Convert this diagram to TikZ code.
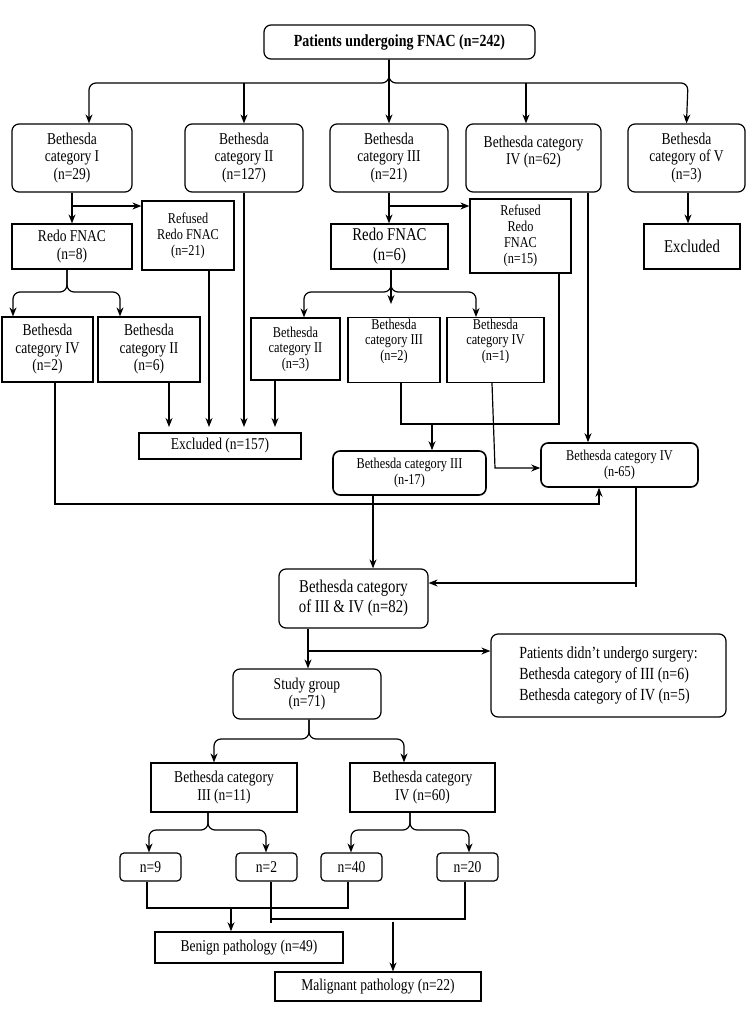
\documentclass[tikz,border=0pt]{standalone}
\usepackage{fontspec}
\setmainfont{Liberation Serif}[FakeStretch=0.82]
\usetikzlibrary{arrows.meta}
\begin{document}
\begin{tikzpicture}[x=1pt,y=-1pt,
 box/.style={draw,line width=1.2pt,align=center,inner sep=1pt,font=\fontsize{16.5}{17.5}\selectfont},
 rbox/.style={box,rounded corners=7pt},
 sbox/.style={box,font=\fontsize{15}{15.5}\selectfont},
 ln/.style={line width=1.2pt},
 arr/.style={ln,-{Stealth[length=9pt,width=7pt]}},
 br/.style={arr,rounded corners=7pt}]
\useasboundingbox (0,0) rectangle (750,1034);
% row 0
\node[rbox,minimum width=271,minimum height=34,font=\bfseries\fontsize{17}{18}\selectfont] (top) at (399.5,42) {Patients undergoing FNAC (n=242)};
% row 1
\node[rbox,minimum width=120,minimum height=68] (b1) at (72,158) {Bethesda\\category I\\(n=29)};
\node[rbox,minimum width=118,minimum height=68] (b2) at (244,158) {Bethesda\\category II\\(n=127)};
\node[rbox,minimum width=118,minimum height=68] (b3) at (389,158) {Bethesda\\category III\\(n=21)};
\node[rbox,minimum width=135,minimum height=68] (b4) at (533.5,158) {};
\node[align=center,font=\fontsize{16.5}{17.5}\selectfont,inner sep=0] (b4t) at (533.5,152) {Bethesda category\\IV (n=62)};
\node[rbox,minimum width=117,minimum height=68] (b5) at (686.5,158) {Bethesda\\category of V\\(n=3)};
% row 2
\node[box,minimum width=92,minimum height=69,font=\fontsize{15}{16}\selectfont] (ref1) at (188,235.5) {Refused\\Redo FNAC\\(n=21)};
\node[box,minimum width=120,minimum height=45] (redo1) at (72,246.5) {Redo FNAC\\(n=8)};
\node[box,minimum width=117,minimum height=45,font=\fontsize{18}{20}\selectfont] (redo2) at (389.5,246.5) {Redo FNAC\\(n=6)};
\node[box,minimum width=101,minimum height=74,font=\fontsize{15}{16}\selectfont] (ref2) at (520.5,236) {Refused\\Redo\\FNAC\\(n=15)};
\node[box,minimum width=96,minimum height=45,font=\fontsize{18}{20}\selectfont] (ex5) at (692,246.5) {Excluded};
% row 3
\node[box,minimum width=91,minimum height=65] (c1) at (47.5,349.5) {Bethesda\\category IV\\(n=2)};
\node[box,minimum width=102,minimum height=65] (c2) at (149,349.5) {Bethesda\\category II\\(n=6)};
\node[sbox,minimum width=89,minimum height=62] (c3) at (295.5,349) {Bethesda\\category II\\(n=3)};
\node[sbox,minimum width=92,minimum height=64,anchor=north] (c4) at (394,317) {Bethesda\\category III\\(n=2)\\[6pt]};
\node[sbox,minimum width=97,minimum height=64,anchor=north] (c5) at (495.5,317) {Bethesda\\category IV\\(n=1)\\[6pt]};
% row 4
\node[box,minimum width=162,minimum height=26] (ex157) at (220,446) {Excluded (n=157)};
\node[rbox,minimum width=153,minimum height=44,font=\fontsize{15}{16}\selectfont,line width=1.6pt] (d3) at (409.5,473) {Bethesda category III\\(n-17)};
\node[rbox,minimum width=157,minimum height=44,font=\fontsize{15}{16}\selectfont,line width=1.6pt] (d4) at (619.5,465) {Bethesda category IV\\(n-65)};
\node[rbox,minimum width=149,minimum height=59,font=\fontsize{18}{20}\selectfont] (e34) at (353.5,598.5) {Bethesda category\\of III \& IV (n=82)};
\node[rbox,minimum width=235,minimum height=83,align=left,font=\fontsize{17}{21}\selectfont] (nos) at (608.5,675.5) {Patients didn’t undergo surgery:\\Bethesda category of III (n=6)\\Bethesda category of IV (n=5)};
\node[rbox,minimum width=148,minimum height=50] (sg) at (307,694) {Study group\\(n=71)};
\node[box,minimum width=146,minimum height=49] (f3) at (224,787.5) {Bethesda category\\III (n=11)};
\node[box,minimum width=145,minimum height=49] (f4) at (422.5,787.5) {Bethesda category\\IV (n=60)};
\node[rbox,rounded corners=4pt,minimum width=61,minimum height=28] (n9) at (150.5,867) {n=9};
\node[rbox,rounded corners=4pt,minimum width=61,minimum height=28] (n2) at (266.5,867) {n=2};
\node[rbox,rounded corners=4pt,minimum width=61,minimum height=28] (n40) at (351.5,867) {n=40};
\node[rbox,rounded corners=4pt,minimum width=61,minimum height=28] (n20) at (467.5,867) {n=20};
\node[box,minimum width=188,minimum height=31,line width=1.6pt] (ben) at (249,947.5) {Benign pathology (n=49)};
\node[box,minimum width=206,minimum height=29] (mal) at (378,986.5) {Malignant pathology (n=22)};
% top brace
\draw[br] (top.south -| 389,0) -- (389,83) -- (89,83) -- (b1.north -| 89,0);
\draw[br] (top.south -| 389,0) -- (389,83) -- (688,83) -- (b5.north);
\draw[arr] (top.south -| 389,0) -- (b3.north);
\draw[arr] (244,83) -- (b2.north);
\draw[arr] (526,83) -- (b4.north -| 526,0);
% row1 -> row2
\draw[arr] (b1.south) -- (redo1.north);
\draw[arr] (72,206) -- (ref1.west |- 0,206);
\draw[arr] (b3.south) -- (redo2.north -| 389,0);
\draw[arr] (389,206) -- (ref2.west |- 0,206);
\draw[arr] (b5.south -| 688,0) -- (ex5.north -| 688,0);
% redo1 brace
\draw[br] (redo1.south -| 67,0) -- (67,292) -- (13,292) -- (c1.north -| 13,0);
\draw[br] (redo1.south -| 67,0) -- (67,292) -- (120,292) -- (c2.north -| 120,0);
% redo2 brace
\draw[br] (redo2.south -| 391,0) -- (391,292) -- (304,292) -- (c3.north -| 304,0);
\draw[br] (redo2.south -| 391,0) -- (391,292) -- (476,292) -- (c5.north -| 476,0);
\draw[arr] (redo2.south -| 391,0) -- (391,304);
% into excluded 157
\draw[arr] (c2.south -| 169,0) -- (169,427);
\draw[arr] (ref1.south -| 209,0) -- (209,427);
\draw[arr] (b2.south) -- (244,427);
\draw[arr] (c3.south -| 275,0) -- (275,427);
% to III-17
\draw[ln] (c4.south -| 401,0) -- (401,424) -- (559,424) -- (ref2.south -| 559,0);
\draw[arr] (432,424) -- (d3.north -| 432,0);
% to IV-65
\draw[arr] (c5.south -| 492,0) -- (495,468) -- (d4.west |- 0,468);
\draw[arr] (b4.south -| 588,0) -- (d4.north -| 588,0);
\draw[arr] (c1.south -| 55,0) -- (55,504) -- (599,504) -- (d4.south -| 599,0);
% to III & IV
\draw[arr] (d3.south -| 373,0) -- (e34.north -| 373,0);
\draw[ln] (d4.south -| 636,0) -- (636,587);
\draw[arr] (636,583) -- (e34.east |- 0,583);
% to study group
\draw[arr] (e34.south -| 308,0) -- (sg.north -| 308,0);
\draw[arr] (308,651) -- (nos.west |- 0,651);
% study brace
\draw[br] (sg.south -| 309,0) -- (309,739) -- (214,739) -- (f3.north -| 214,0);
\draw[br] (sg.south -| 309,0) -- (309,739) -- (404,739) -- (f4.north -| 404,0);
% f3 brace
\draw[br] (f3.south -| 208,0) -- (208,830) -- (149,830) -- (n9.north -| 149,0);
\draw[br] (f3.south -| 208,0) -- (208,830) -- (266,830) -- (n2.north -| 266,0);
% f4 brace
\draw[br] (f4.south -| 410,0) -- (410,830) -- (351,830) -- (n40.north -| 351,0);
\draw[br] (f4.south -| 410,0) -- (410,830) -- (469,830) -- (n20.north -| 469,0);
% outcome lines
\draw[ln] (n9.south -| 147,0) -- (147,908) -- (348,908) -- (n40.south -| 348,0);
\draw[arr] (231,908) -- (ben.north -| 231,0);
\draw[ln] (n2.south -| 271,0) -- (271,923);
\draw[ln] (271,919) -- (465,919) -- (n20.south -| 465,0);
\draw[arr] (393,922) -- (mal.north -| 393,0);
\end{tikzpicture}
\end{document}
